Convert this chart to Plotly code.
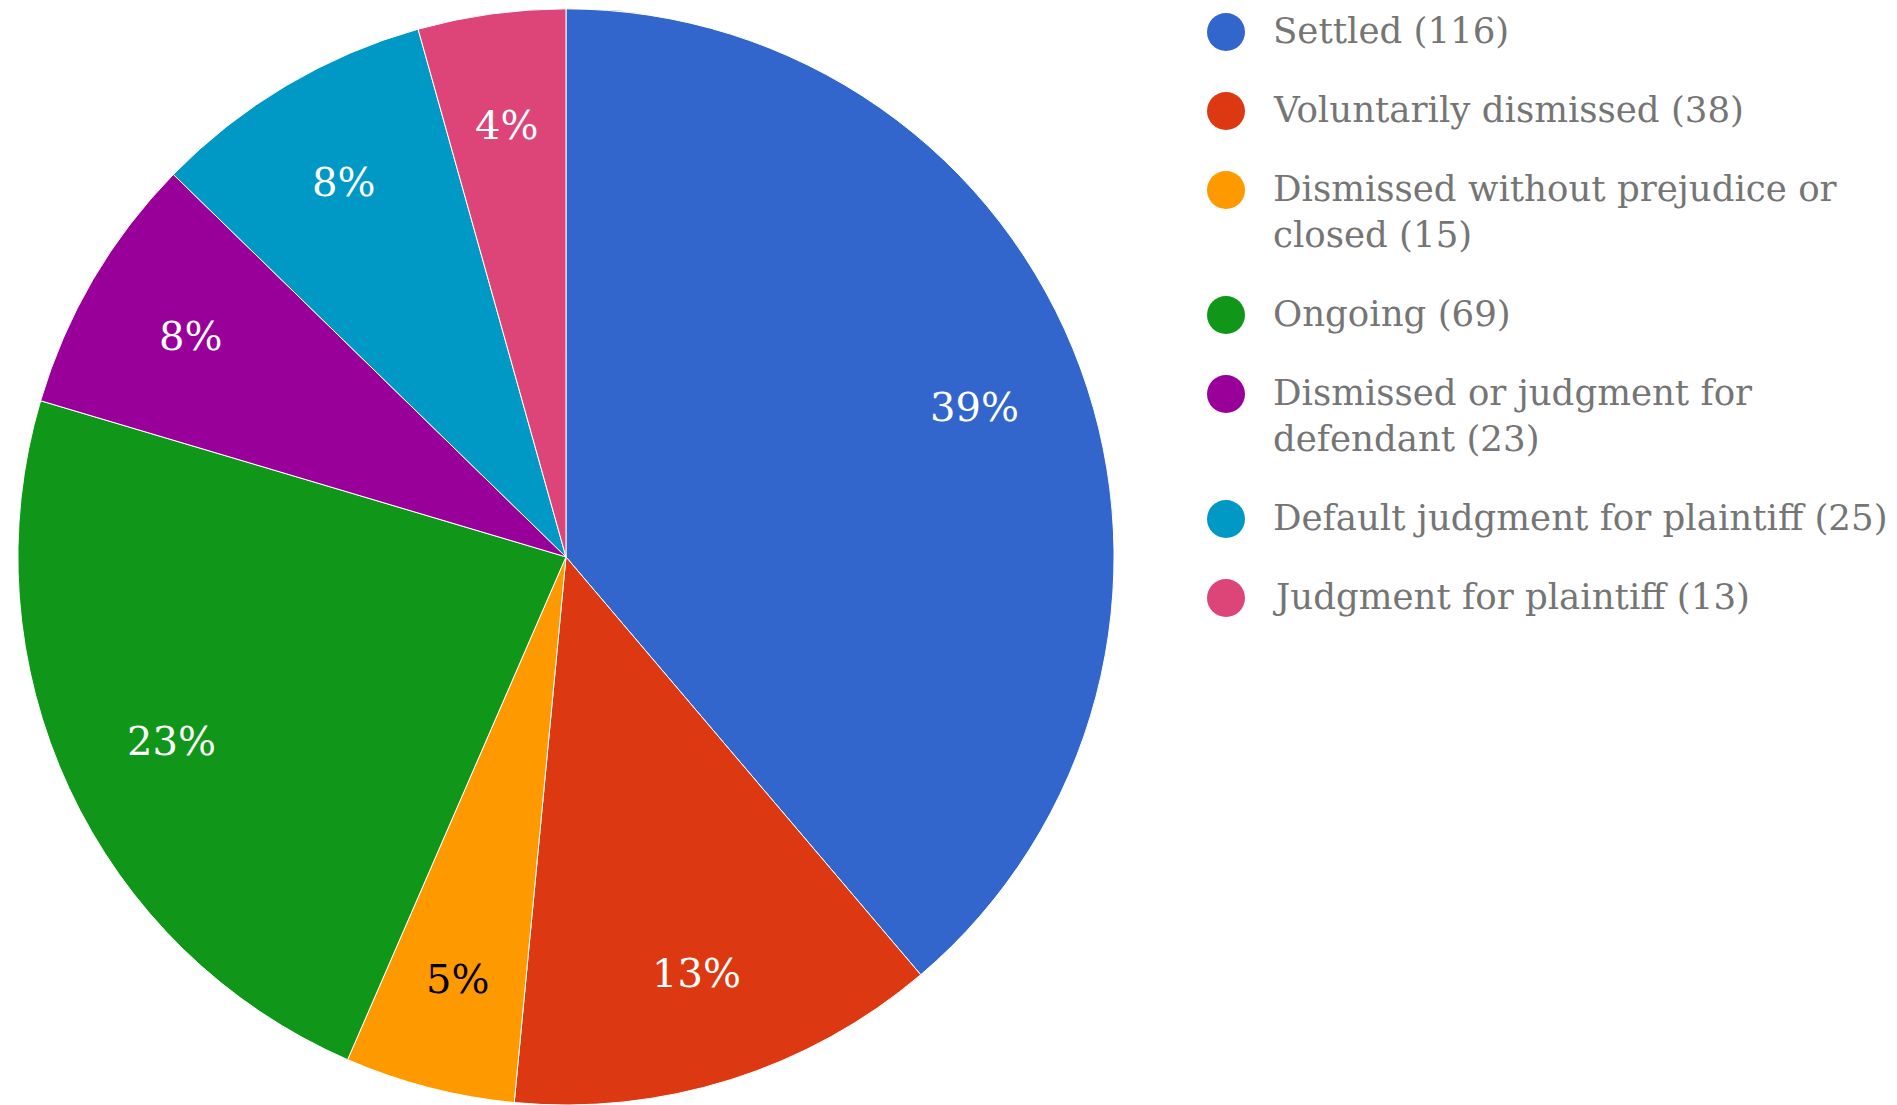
import math
import plotly.graph_objects as go

# ---- data ----
categories = [
    "Settled",
    "Voluntarily dismissed",
    "Dismissed without prejudice or closed",
    "Ongoing",
    "Dismissed or judgment for defendant",
    "Default judgment for plaintiff",
    "Judgment for plaintiff",
]
counts = [116, 38, 15, 69, 23, 25, 13]
legend_labels = [
    "Settled (116)",
    "Voluntarily dismissed (38)",
    "Dismissed without prejudice or<br>closed (15)",
    "Ongoing (69)",
    "Dismissed or judgment for<br>defendant (23)",
    "Default judgment for plaintiff (25)",
    "Judgment for plaintiff (13)",
]
colors = ["#3366cc", "#dc3912", "#ff9900", "#109618", "#990099", "#0099c6", "#dd4477"]
label_text_colors = ["#ffffff", "#ffffff", "#000000", "#ffffff", "#ffffff", "#ffffff", "#ffffff"]

W, H = 1897, 1105
FONT = "DejaVu Serif"

# pie geometry (paper domain)
dom_x = [0.0, 0.5967]
dom_y = [0.0, 0.992]
pie_w = (dom_x[1] - dom_x[0]) * W
pie_h = (dom_y[1] - dom_y[0]) * H
R = min(pie_w, pie_h) / 2
cx = (dom_x[0] + dom_x[1]) / 2 * W
cy = H - (dom_y[0] + dom_y[1]) / 2 * H  # from top

fig = go.Figure()

fig.add_trace(go.Pie(
    labels=categories,
    values=counts,
    sort=False,
    direction="clockwise",
    rotation=0,
    marker=dict(colors=colors, line=dict(color="#ffffff", width=1)),
    textinfo="none",
    domain=dict(x=dom_x, y=dom_y),
    showlegend=False,
    hoverinfo="label+value+percent",
))

# ---- percentage labels, placed along each slice's mid angle ----
total = sum(counts)
cum = 0
for v, tc in zip(counts, label_text_colors):
    frac_mid = (cum + v / 2) / total
    cum += v
    ang = 2 * math.pi * frac_mid
    r_lab = 0.795 * R
    fig.add_annotation(
        x=cx + r_lab * math.sin(ang), y=cy - r_lab * math.cos(ang),
        xref="x", yref="y",
        text=f"{round(100 * v / total)}%", showarrow=False,
        xanchor="center", yanchor="middle",
        font=dict(family=FONT, size=40, color=tc),
    )

# ---- custom legend (large round markers) ----
row_gap = 79
line_h = 46
first_y = 32
marker_x = 1226
text_x = 1271
ys = []
extra = 0
for i, lab in enumerate(legend_labels):
    ys.append(first_y + row_gap * i + line_h * extra)
    extra += lab.count("<br>")

fig.add_trace(go.Scatter(
    x=[marker_x] * len(ys),
    y=ys,
    mode="markers",
    marker=dict(size=38, color=colors, line=dict(width=0)),
    showlegend=False,
    hoverinfo="skip",
    cliponaxis=False,
    xaxis="x",
    yaxis="y",
))

for lab, y in zip(legend_labels, ys):
    fig.add_annotation(
        x=text_x, y=y - 24, xref="x", yref="y",
        text=lab, showarrow=False,
        xanchor="left", yanchor="top", align="left",
        font=dict(family=FONT, size=35.6, color="#757575"),
    )

fig.update_layout(
    width=W, height=H,
    margin=dict(l=0, r=0, t=0, b=0),
    paper_bgcolor="#ffffff",
    plot_bgcolor="rgba(0,0,0,0)",
    xaxis=dict(range=[0, W], visible=False, domain=[0, 1], fixedrange=True),
    yaxis=dict(range=[H, 0], visible=False, domain=[0, 1], fixedrange=True),
    showlegend=False,
)

fig.write_html(
    "out.html",
    config={"displayModeBar": False},
    post_script="document.body.style.margin='0';document.body.style.overflow='hidden';",
)
